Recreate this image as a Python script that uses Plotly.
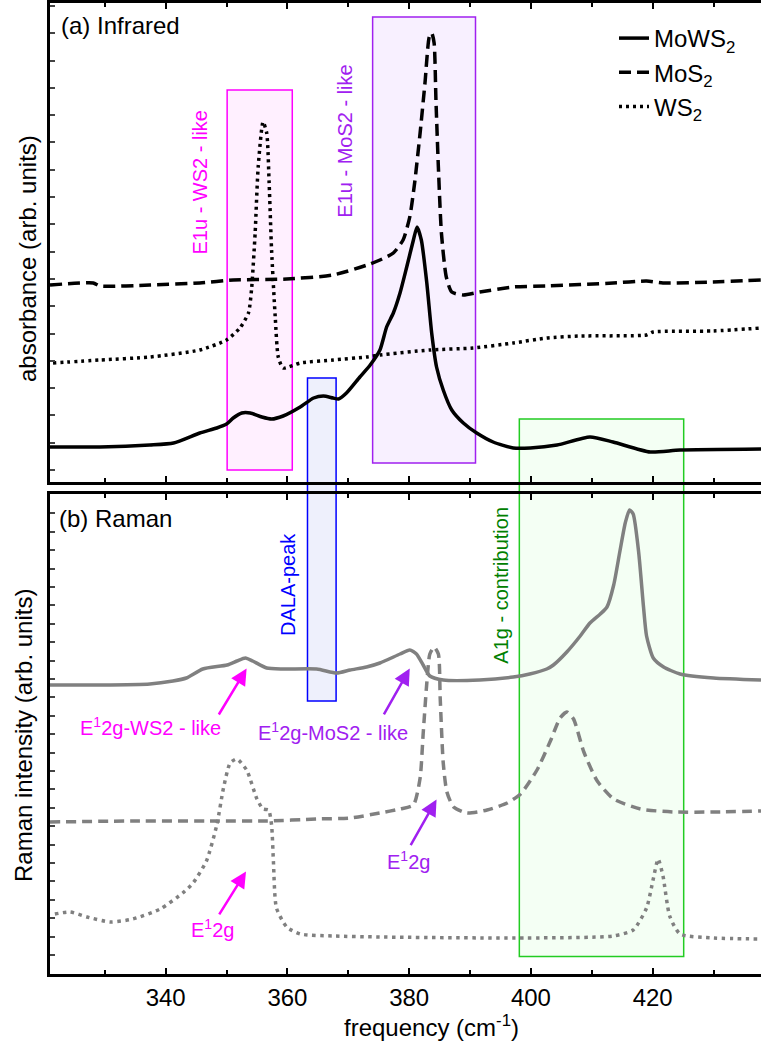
import plotly.graph_objects as go

# ---------------- data (arbitrary units) ----------------
# (a) Infrared absorbance
ir_mows2_x = [321.0, 329.2, 337.4, 341.3, 345.6, 348.4, 350.0, 351.1, 352.5, 353.9, 355.8, 357.4, 359.3,
              362.1, 364.3, 365.9, 367.5, 368.4, 369.7, 371.9, 373.6, 375.2, 376.3, 377.4, 378.5, 379.6,
              380.7, 381.3, 382.0, 382.9, 383.7, 384.5, 385.6, 387.0, 388.9, 391.1, 393.8, 397.1, 399.9,
              404.3, 409.7, 413.5, 419.6, 424.5, 437.8]
ir_mows2_y = [35, 35, 37, 39, 49, 54, 58, 64, 69, 69, 65, 63, 66,
              75, 84, 86, 84, 83, 89, 105, 117, 132, 155, 169, 189, 215,
              242, 255, 242, 199, 149, 115, 92, 72, 59, 49, 40, 34, 34,
              37, 45, 40, 30, 32, 33]

ir_mos2_x = [321.0, 328.1, 329.2, 337.4, 345.6, 351.1, 359.9, 367.5, 373.1, 375.2, 377.4, 379.0, 380.1,
             380.9, 381.8, 382.6, 383.3, 383.7, 384.1, 384.4, 384.8, 385.3, 386.1, 387.0, 388.9, 391.6,
             397.1, 402.6, 413.5, 419.0, 421.7, 429.9, 437.8]
ir_mos2_y = [197, 199, 196, 197, 199, 202, 203, 207, 217, 222, 229, 242, 265,
             299, 349, 399, 445, 449, 439, 382, 315, 249, 205, 190, 187, 190,
             195, 196, 199, 201, 199, 200, 202]

ir_ws2_x = [321.5, 329.2, 337.4, 345.6, 350.0, 352.2, 353.6, 354.1, 354.7, 355.2, 356.0, 356.6, 357.0,
            357.4, 358.0, 358.5, 359.3, 362.1, 367.5, 373.0, 375.2, 383.4, 390.5, 397.1, 402.6, 408.1,
            419.0, 420.1, 429.9, 437.8]
ir_ws2_y = [119, 122, 125, 132, 142, 154, 169, 192, 249, 315, 360, 349, 299,
            232, 165, 125, 114, 119, 122, 125, 127, 132, 134, 139, 144, 146,
            147, 150, 151, 154]

# (b) Raman intensity
raman_mows2_x = [321.0, 329.2, 337.4, 341.2, 343.4, 346.1, 350.1, 351.7, 353.1, 354.3, 356.6, 359.3,
                 364.8, 368.1, 370.3, 373.0, 375.2, 378.5, 380.1, 381.2, 382.3, 383.4, 385.6, 391.6,
                 397.1, 399.8, 402.6, 403.7, 405.9, 408.1, 409.7, 411.4, 412.5, 413.6, 414.6, 415.5,
                 416.2, 416.8, 417.7, 418.5, 419.0, 420.1, 421.8, 424.5, 430.0, 437.8]
raman_mows2_y = [289, 289, 290, 293, 296, 305, 309, 313, 316, 313, 306, 305,
                 305, 301, 304, 307, 311, 320, 324, 320, 309, 298, 294, 294,
                 297, 300, 305, 309, 322, 338, 351, 360, 367, 389, 422, 451,
                 464, 460, 422, 367, 338, 316, 307, 300, 296, 294]

raman_mos2_x = [321.0, 334.7, 348.4, 356.6, 364.8, 370.3, 375.2, 378.5, 380.7, 381.8, 382.3, 382.9,
                383.4, 384.1, 384.8, 385.1, 385.6, 386.2, 387.3, 389.5, 392.8, 396.1, 398.3, 401.0,
                403.2, 404.8, 405.9, 407.0, 408.7, 410.9, 413.6, 418.0, 423.5, 430.0, 437.8]
raman_mos2_y = [152, 153, 153, 153, 155, 156, 161, 165, 169, 196, 240, 291,
                320, 327, 320, 276, 211, 182, 167, 161, 164, 171, 180, 204,
                233, 256, 262, 255, 222, 193, 175, 165, 162, 162, 163]

raman_ws2_x = [321.8, 324.3, 327.1, 330.9, 334.6, 339.1, 342.8, 344.5, 346.7, 348.4, 349.5, 350.6,
               351.7, 353.3, 355.0, 356.0, 356.9, 357.4, 357.7, 358.2, 359.9, 362.1, 367.5, 375.2,
               397.1, 413.5, 416.8, 419.0, 420.1, 420.9, 421.7, 422.8, 424.5, 430.0, 437.8]
raman_ws2_y = [60, 62, 57, 52, 55, 65, 81, 91, 113, 149, 186, 211,
               215, 204, 175, 165, 164, 149, 113, 66, 47, 40, 38, 37,
               36, 38, 44, 66, 95, 115, 98, 58, 40, 36, 35]

x_range = [321.0, 437.8]
major_ticks = [340, 360, 380, 400, 420]

# ---------------- figure ----------------
FONT = "Arial, Liberation Sans, sans-serif"
MAGENTA = "#ff00ff"
PURPLE = "#a020f0"
BLUE = "#0000ff"
GREEN = "#008000"
GRAY = "#808080"
SM = 0.6

fig = go.Figure()
fig.add_trace(go.Scatter(x=ir_mows2_x, y=ir_mows2_y, mode="lines", name="MoWS<sub>2</sub>",
                         line=dict(color="black", width=3.5, shape="spline", smoothing=SM), xaxis="x", yaxis="y"))
fig.add_trace(go.Scatter(x=ir_mos2_x, y=ir_mos2_y, mode="lines", name="MoS<sub>2</sub>",
                         line=dict(color="black", width=3.5, dash="12px,6px", shape="spline", smoothing=SM),
                         xaxis="x", yaxis="y"))
fig.add_trace(go.Scatter(x=ir_ws2_x, y=ir_ws2_y, mode="lines", name="WS<sub>2</sub>",
                         line=dict(color="black", width=3.5, dash="3px,4px", shape="spline", smoothing=SM),
                         xaxis="x", yaxis="y"))
fig.add_trace(go.Scatter(x=raman_mows2_x, y=raman_mows2_y, mode="lines", showlegend=False,
                         line=dict(color=GRAY, width=3.5, shape="spline", smoothing=SM), xaxis="x2", yaxis="y2"))
fig.add_trace(go.Scatter(x=raman_mos2_x, y=raman_mos2_y, mode="lines", showlegend=False,
                         line=dict(color=GRAY, width=3.5, dash="10px,6px", shape="spline", smoothing=SM),
                         xaxis="x2", yaxis="y2"))
fig.add_trace(go.Scatter(x=raman_ws2_x, y=raman_ws2_y, mode="lines", showlegend=False,
                         line=dict(color=GRAY, width=3.5, dash="3.5px,4.5px", shape="spline", smoothing=SM),
                         xaxis="x2", yaxis="y2"))

H_PLOT = 971.0
def py(p):
    return (974.0 - p) / H_PLOT
def px(p):
    return (p - 50.0) / 711.0

xaxis_common = dict(range=x_range, showline=True, linecolor="black", linewidth=3, mirror="ticks",
                    ticks="inside", ticklen=6, tickwidth=2, tickcolor="black",
                    tickvals=major_ticks, showgrid=False, zeroline=False,
                    minor=dict(dtick=10, tick0=320, ticks="inside", ticklen=4, tickwidth=2, tickcolor="black", showgrid=False))

fig.update_layout(
    width=761, height=1048,
    margin=dict(l=50, r=0, t=3, b=74),
    paper_bgcolor="white", plot_bgcolor="rgba(0,0,0,0)",
    font=dict(family=FONT, size=24, color="black"),
    xaxis=dict(**xaxis_common, anchor="y", matches="x2", showticklabels=False),
    xaxis2=dict(**xaxis_common, anchor="y2", showticklabels=True,
                tickfont=dict(size=24)),
    yaxis=dict(domain=[py(482), 1.0], range=[0, 479], showline=True, linecolor="black", linewidth=3,
               mirror=False, ticks="inside", ticklen=5, tickwidth=2, tick0=12, dtick=27.3,
               showticklabels=False, showgrid=False, zeroline=False),
    yaxis2=dict(domain=[0, py(494)], range=[0, 480], showline=True, linecolor="black", linewidth=3,
                mirror=False, ticks="inside", ticklen=5, tickwidth=2, tick0=0.6, dtick=18.4,
                showticklabels=False, showgrid=False, zeroline=False),
    legend=dict(x=px(614), y=py(16), xanchor="left", yanchor="top", bgcolor="rgba(0,0,0,0)",
                font=dict(size=24), borderwidth=0),
)

# ---------------- highlight boxes ----------------
shapes = [
    dict(type="rect", xref="x", yref="y", x0=350.1, x1=360.8, y0=12, y1=392,
         fillcolor="#fff0ff", line=dict(color=MAGENTA, width=1.5), layer="below"),
    dict(type="rect", xref="x", yref="y", x0=374.0, x1=390.9, y0=19, y1=465,
         fillcolor="#f8f0ff", line=dict(color=PURPLE, width=1.5), layer="below"),
    dict(type="rect", xref="x", yref="paper", x0=363.3, x1=368.0, y0=py(701), y1=py(378),
         fillcolor="#eef0fc", line=dict(color=BLUE, width=1.5), layer="below"),
    dict(type="rect", xref="x", yref="paper", x0=398.1, x1=425.1, y0=py(956.5), y1=py(419),
         fillcolor="#f4fff4", line=dict(color="#22cc22", width=1.5), layer="below"),
]
fig.update_layout(shapes=shapes)

ann = []
def txt(text, xp, yp, color="black", size=24, angle=0, xanchor="center"):
    ann.append(dict(text=text, xref="paper", yref="paper", x=px(xp), y=py(yp), showarrow=False,
                    xanchor=xanchor, yanchor="middle", textangle=angle,
                    font=dict(family=FONT, size=size, color=color)))

txt("(a) Infrared", 59, 25, xanchor="left")
txt("(b) Raman", 57, 518, xanchor="left")
txt("absorbance (arb. units)", 27, 259, angle=-90)
txt("Raman intensity (arb. units)", 23, 736, angle=-90)
txt("frequency (cm<sup>-1</sup>)", 431, 1026)
txt("E1u - WS2 - like", 200, 182.5, MAGENTA, 20, -90)
txt("E1u - MoS2 - like", 345, 141.7, PURPLE, 20, -90)
txt("DALA-peak", 288, 585, BLUE, 20, -90)
txt("A1g - contribution", 500.7, 585, GREEN, 20, -90)
txt("E<sup>1</sup>2g-WS2 - like", 150, 726, MAGENTA, 20)
txt("E<sup>1</sup>2g-MoS2 - like", 333.3, 731, PURPLE, 20)
txt("E<sup>1</sup>2g", 408, 860, PURPLE, 20)
txt("E<sup>1</sup>2g", 212.5, 928, MAGENTA, 20)

def arrow(x, y, ax, ay, color):
    ann.append(dict(text="", xref="x2", yref="y2", x=x, y=y, ax=ax, ay=ay, axref="pixel", ayref="pixel",
                    showarrow=True, arrowhead=2, arrowsize=1.3, arrowwidth=2.5, arrowcolor=color,
                    standoff=0, startstandoff=0))

arrow(353.3, 305.4, -28.7, 47.4, MAGENTA)
arrow(380.1, 305.4, -26.7, 47.2, PURPLE)
arrow(384.5, 174.5, -26.7, 47.2, PURPLE)
arrow(353.2, 102.5, -27.7, 44.3, MAGENTA)

fig.update_layout(annotations=ann)

fig.write_html("out.html")
